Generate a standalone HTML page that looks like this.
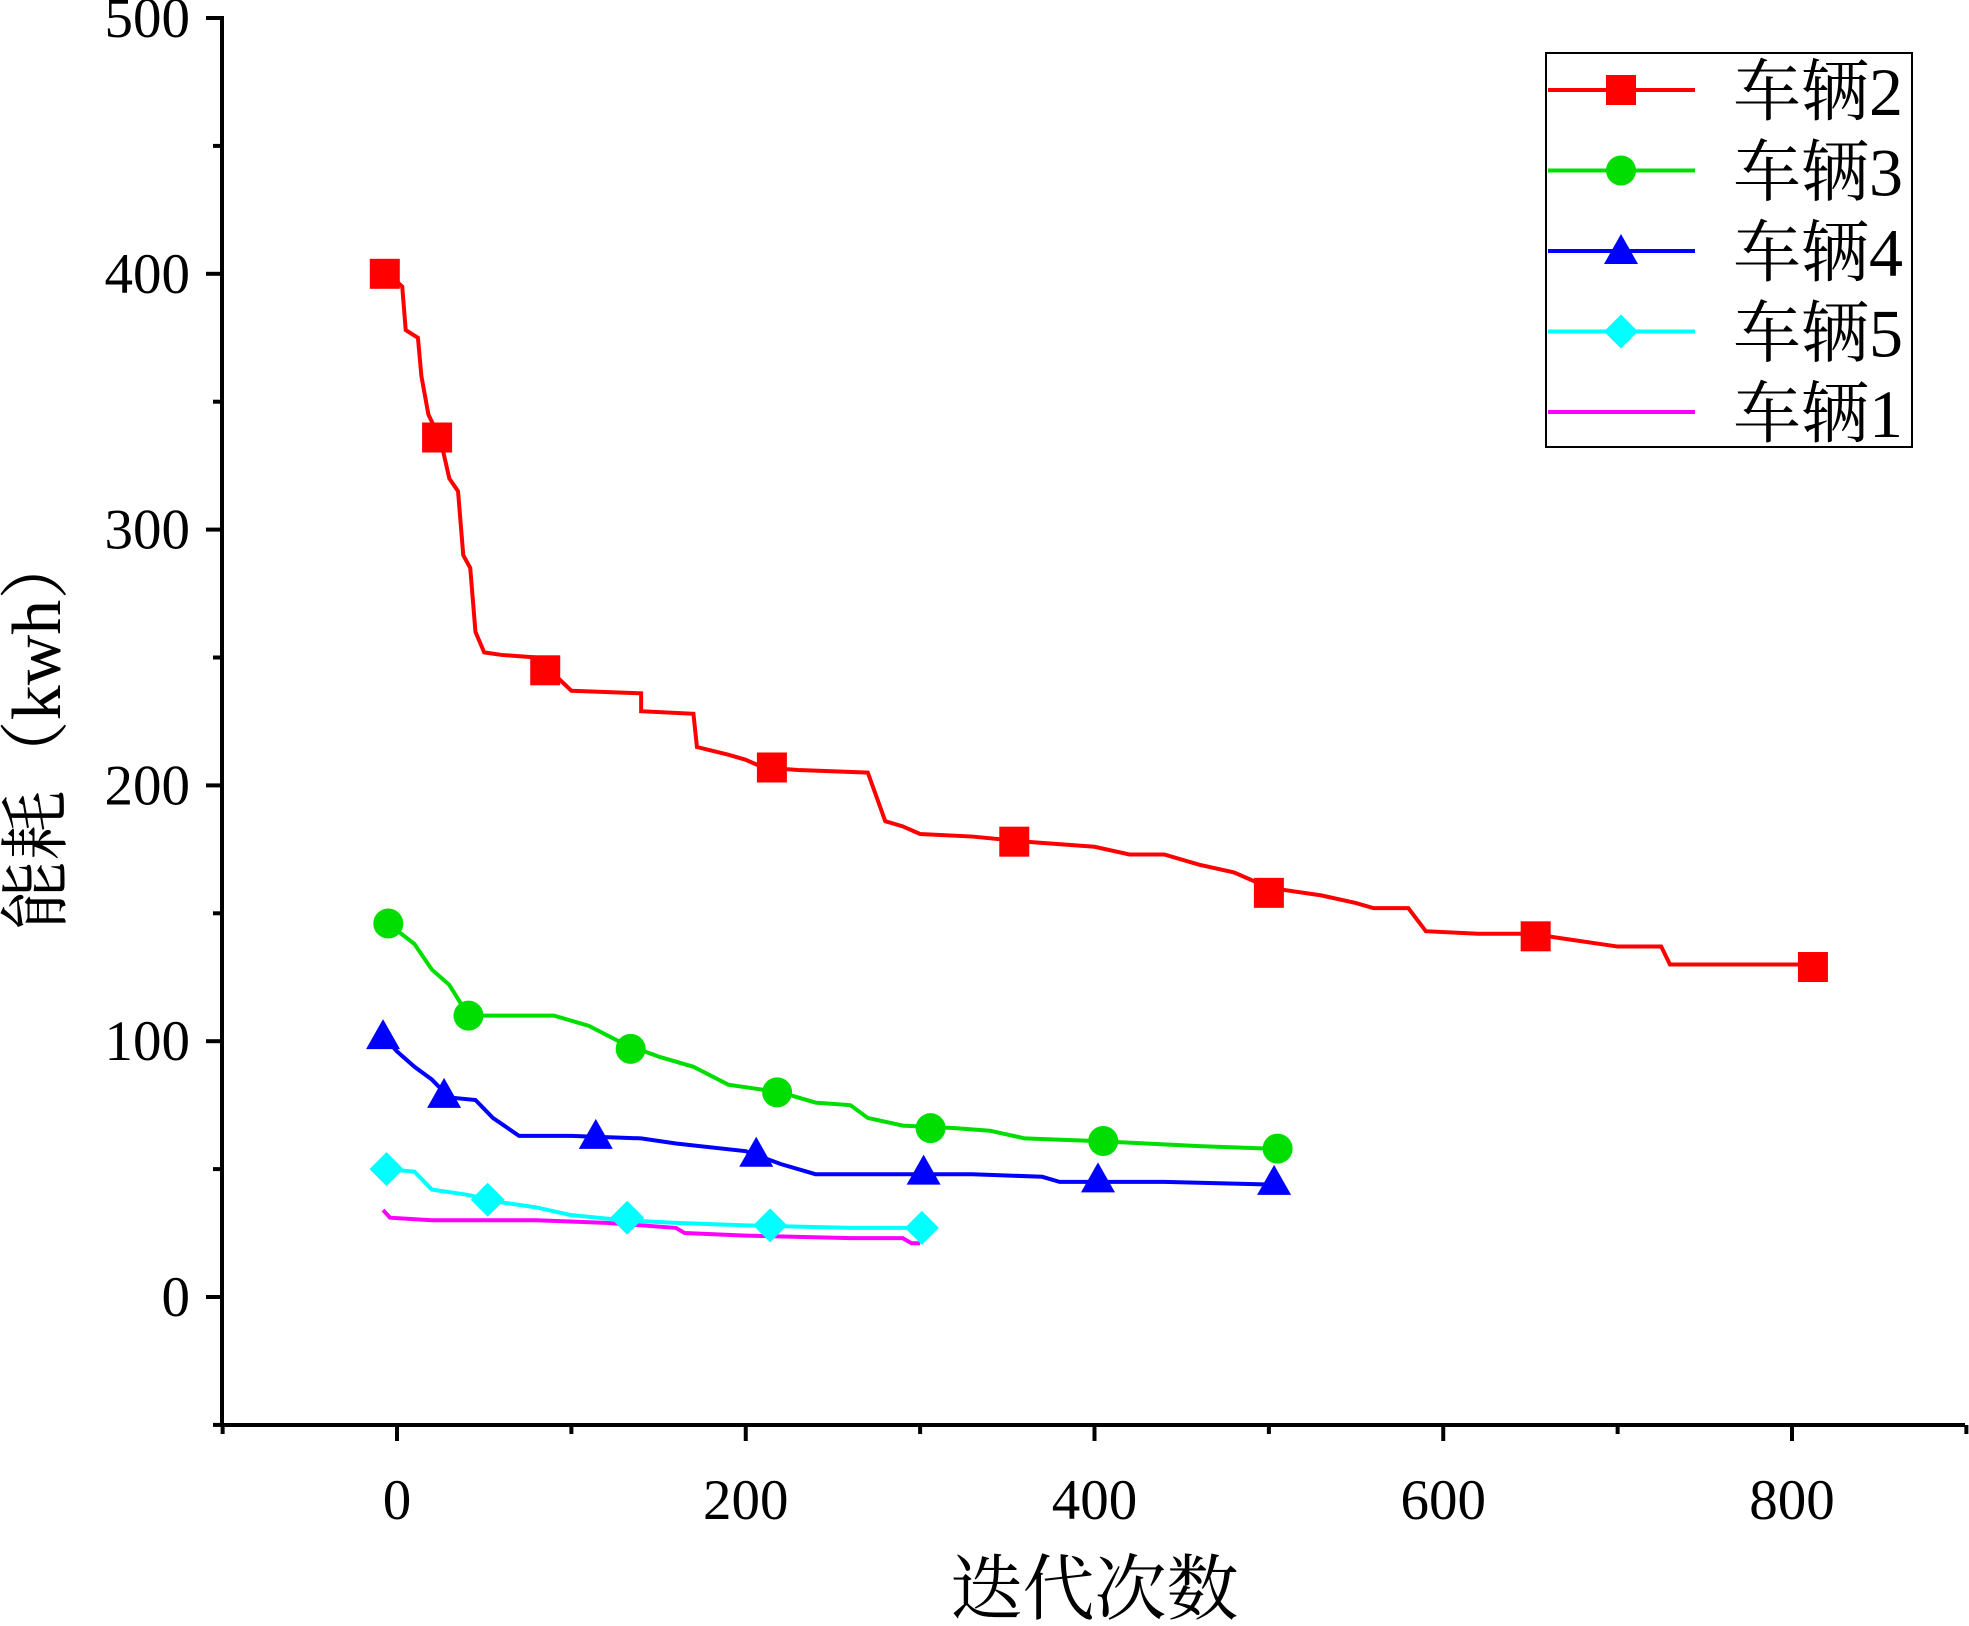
<!DOCTYPE html>
<html><head><meta charset="utf-8"><style>
html,body{margin:0;padding:0;background:#fff;}
svg{display:block;}
</style></head><body>
<svg id="chart" width="1969" height="1626" viewBox="0 0 1969 1626" xmlns="http://www.w3.org/2000/svg"></svg>
<script>
const xTicks=[0,200,400,600,800];
const xMinor=[-100,100,300,500,700,900];
const yTicks=[0,100,200,300,400,500];
const yMinor=[-50,50,150,250,350,450];
const seriesNames=["车辆2","车辆3","车辆4","车辆5","车辆1"];
const v2Line=[[-5,400],[3,395],[5,378],[12,375],[14,360],[18,345],[25,335],[30,320],[35,315],[38,290],[42,285],[45,260],[50,252],[60,251],[80,250],[100,237],[140,236],[140,229],[170,228],[172,215],[190,212],[200,210],[210,207],[230,206],[270,205],[280,186],[290,184],[300,181],[330,180],[360,178],[400,176],[420,173],[440,173],[460,169],[480,166],[500,160],[530,157],[550,154],[560,152],[580,152],[590,143],[620,142],[650,142],[670,140],[700,137],[725,137],[730,130],[810,130]];
const v2Marks=[[-7,400],[23,336],[85,245],[215,207],[354,178],[500,158],[653,141],[812,129]];
const v3Line=[[-5,146],[10,138],[20,128],[30,122],[40,111],[50,110],[90,110],[110,106],[130,99],[150,94],[170,90],[190,83],[220,80],[240,76],[260,75],[270,70],[290,67],[320,66],[340,65],[360,62],[400,61],[460,59],[500,58]];
const v3Marks=[[-5,146],[41,110],[134,97],[218,80],[306,66],[405,61],[505,58]];
const v4Line=[[-8,102],[0,96],[10,90],[20,85],[30,78],[45,77],[55,70],[70,63],[100,63],[140,62],[160,60],[200,57],[220,52],[240,48],[280,48],[330,48],[370,47],[380,45],[440,45],[500,44]];
const v4Marks=[[-8,102],[27,79],[114,63],[206,56],[302,49],[402,46],[503,45]];
const v5Line=[[-6,50],[10,49],[20,42],[40,40],[60,37],[80,35],[100,32],[130,30],[160,29],[200,28],[260,27],[300,27]];
const v5Marks=[[-6,50],[52,38],[132,31],[214,28],[301,27]];
const v1Line=[[-8,34],[-4,31],[20,30],[80,30],[120,29],[160,27],[165,25],[200,24],[260,23],[290,23],[295,21],[300,21]];

const NS="http://www.w3.org/2000/svg";
const svg=document.getElementById('chart');
const X0=222,X1=1965,Y0=18,YB=1425;
function sx(v){return 397+(v)*(1792-397)/800;}
function sy(v){return 1297-(v)*(1297-18)/500;}
function mk(t,a,p){const e=document.createElementNS(NS,t);for(const k in a)e.setAttribute(k,a[k]);(p||svg).appendChild(e);return e;}
const ff='"Liberation Serif","Noto Serif CJK SC",serif';
let ax=mk('line',{x1:X0,y1:Y0-2,x2:X0,y2:YB+2,stroke:'#000','stroke-width':4});

ax=mk('line',{x1:X0-2,y1:YB,x2:X1,y2:YB,stroke:'#000','stroke-width':4});

yTicks.forEach(v=>{mk('line',{x1:X0-16,y1:sy(v),x2:X0,y2:sy(v),stroke:'#000','stroke-width':4});
 const t=mk('text',{x:X0-32,y:sy(v)+19,'text-anchor':'end','font-size':57,'font-family':ff});t.textContent=v;
 });
yMinor.forEach(v=>mk('line',{x1:X0-9,y1:sy(v),x2:X0,y2:sy(v),stroke:'#000','stroke-width':4}));
xTicks.forEach(v=>{mk('line',{x1:sx(v),y1:YB,x2:sx(v),y2:YB+16,stroke:'#000','stroke-width':4});
 const t=mk('text',{x:sx(v),y:YB+94,'text-anchor':'middle','font-size':57,'font-family':ff});t.textContent=v;
 });
xMinor.forEach(v=>mk('line',{x1:sx(v),y1:YB,x2:sx(v),y2:YB+9,stroke:'#000','stroke-width':4}));
let tt=mk('text',{x:sx(400),y:1614,'text-anchor':'middle','font-size':72,'font-family':ff});tt.textContent='迭代次数';

tt=mk('text',{x:0,y:0,'text-anchor':'middle','font-size':70,'font-family':ff,transform:'translate(60,730) rotate(-90)'});tt.textContent='能耗（kwh）';


function marker(type,cx,cy,color,name){
 let e;const s=15;
 if(type==='sq')e=mk('rect',{x:cx-s,y:cy-s,width:2*s,height:2*s,fill:color});
 else if(type==='ci')e=mk('circle',{cx:cx,cy:cy,r:s,fill:color});
 else if(type==='tr')e=mk('polygon',{points:`${cx},${cy-17} ${cx+17},${cy+13} ${cx-17},${cy+13}`,fill:color});
 else e=mk('polygon',{points:`${cx},${cy-17} ${cx+17},${cy} ${cx},${cy+17} ${cx-17},${cy}`,fill:color});
 
}
const series=[
 [v1Line,null,'#ff00ff',null,'vehicle1'],
 [v5Line,v5Marks,'#00ffff','di','vehicle5'],
 [v4Line,v4Marks,'#0000ff','tr','vehicle4'],
 [v3Line,v3Marks,'#00dd00','ci','vehicle3'],
 [v2Line,v2Marks,'#ff0000','sq','vehicle2']];
series.forEach(([ln,mks,c,t,n])=>{
 const p=mk('polyline',{points:ln.map(d=>sx(d[0])+','+sy(d[1])).join(' '),fill:'none',stroke:c,'stroke-width':4});
 
 if(mks)mks.forEach(d=>marker(t,sx(d[0]),sy(d[1]),c,n+'-marker'));
});
const lg=mk('rect',{x:1546,y:53,width:366,height:394,fill:'#fff',stroke:'#000','stroke-width':2});

const lgColors=['#ff0000','#00dd00','#0000ff','#00ffff','#ff00ff'];
const lgTypes=['sq','ci','tr','di',null];
seriesNames.forEach((nm,i)=>{
 const y=90+i*80.5;
 mk('line',{x1:1548,y1:y,x2:1695,y2:y,stroke:lgColors[i],'stroke-width':4});
 if(lgTypes[i])marker(lgTypes[i],1621,y,lgColors[i],'legend-marker');
 const t=mk('text',{x:1733,y:y+25,'font-size':68,'font-family':ff});t.textContent=nm;
 
});
</script>
</body></html>
